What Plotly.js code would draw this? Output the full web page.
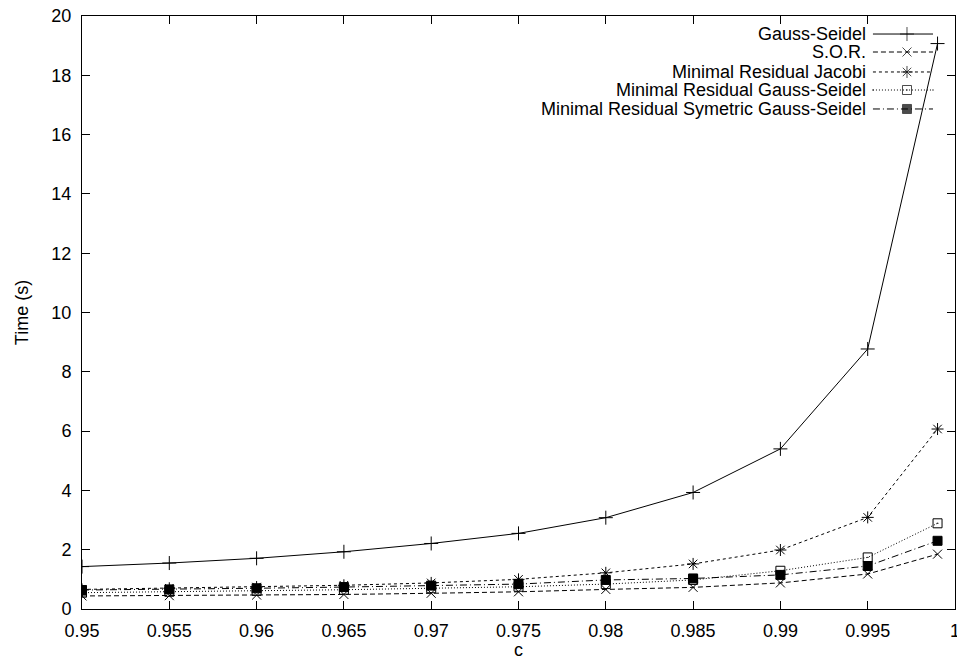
<!DOCTYPE html>
<html>
<head>
<meta charset="utf-8">
<script src="https://cdn.plot.ly/plotly-3.0.1.min.js"></script>
<style>html,body{margin:0;padding:0;background:#fff}#chart{width:957px;height:660px}</style>
</head>
<body>
<div id="chart"></div>
<script>
const cValues = [0.95, 0.955, 0.96, 0.965, 0.97, 0.975, 0.98, 0.985, 0.99, 0.995, 0.999];
const gaussSeidel = [1.43, 1.55, 1.71, 1.93, 2.21, 2.55, 3.08, 3.93, 5.40, 8.77, 19.07];
const sor = [0.44, 0.45, 0.47, 0.49, 0.53, 0.58, 0.66, 0.73, 0.88, 1.18, 1.85];
const mrJacobi = [0.66, 0.70, 0.74, 0.80, 0.88, 1.00, 1.22, 1.52, 1.99, 3.09, 6.07];
const mrGaussSeidel = [0.55, 0.58, 0.61, 0.65, 0.70, 0.75, 0.84, 0.98, 1.29, 1.74, 2.89];
const mrSymGaussSeidel = [0.64, 0.66, 0.70, 0.74, 0.79, 0.84, 0.98, 1.03, 1.15, 1.45, 2.30];

const seriesNames = ["Gauss-Seidel", "S.O.R.", "Minimal Residual Jacobi", "Minimal Residual Gauss-Seidel", "Minimal Residual Symetric Gauss-Seidel"];
const xTickVals = [0.95, 0.955, 0.96, 0.965, 0.97, 0.975, 0.98, 0.985, 0.99, 0.995, 1.0];
const xTickText = ["0.95", "0.955", "0.96", "0.965", "0.97", "0.975", "0.98", "0.985", "0.99", "0.995", "1"];
const yTickVals = [0, 2, 4, 6, 8, 10, 12, 14, 16, 18, 20];

const seriesData = [gaussSeidel, sor, mrJacobi, mrGaussSeidel, mrSymGaussSeidel];
const styles = [
  {dash: "solid", symbol: "cross-thin-open", size: 10},
  {dash: "5px,3px", symbol: "x-thin-open", size: 9},
  {dash: "3px,3px", symbol: "asterisk-open", size: 10},
  {dash: "1px,2px", symbol: "square-open-dot", size: 9},
  {dash: "7px,3px,1px,3px", symbol: "square", size: 9}
];

const FONT = "Liberation Sans, Arial, sans-serif";
const FS = 18;
const traces = [];
seriesData.forEach((ys, i) => {
  traces.push({
    x: cValues, y: ys, type: "scatter", mode: "lines+markers", name: seriesNames[i],
    line: {color: "#000", width: 1, dash: styles[i].dash},
    marker: {color: "#000", symbol: styles[i].symbol, size: styles[i].size, line: {color: "#000", width: 1}},
    showlegend: false, hoverinfo: "skip"
  });
});

// gnuplot-style key: text right-aligned, sample to its right (drawn on an overlay axis)
const legRows = [0.9696, 0.9393, 0.9056, 0.8752, 0.8432];
const annotations = [];
seriesNames.forEach((n, i) => {
  traces.push({
    x: [0.906, 0.945, 0.9748], y: [legRows[i], legRows[i], legRows[i]],
    xaxis: "x2", yaxis: "y2", type: "scatter", mode: "lines+markers",
    line: {color: "#000", width: 1, dash: styles[i].dash},
    marker: {color: "#000", symbol: styles[i].symbol, size: [0, styles[i].size, 0], line: {color: "#000", width: 1}},
    showlegend: false, hoverinfo: "skip"
  });
  annotations.push({
    xref: "paper", yref: "paper", x: 0.9003, y: legRows[i], xanchor: "right", yanchor: "middle",
    text: n, showarrow: false, font: {family: FONT, size: FS, color: "#000"}
  });
});

const layout = {
  width: 957, height: 660,
  margin: {l: 82, r: 2, t: 16, b: 51},
  paper_bgcolor: "#fff", plot_bgcolor: "#fff",
  showlegend: false,
  font: {family: FONT, size: FS, color: "#000"},
  xaxis: {
    range: [0.95, 1.0], tickvals: xTickVals, ticktext: xTickText,
    ticks: "inside", ticklen: 8, tickwidth: 1, tickcolor: "#000",
    showline: true, linecolor: "#000", linewidth: 1, mirror: "allticks",
    showgrid: false, zeroline: false, ticklabeloverflow: "allow", ticklabelstandoff: 5,
    title: {text: "c", font: {family: FONT, size: FS}, standoff: 0},
    tickfont: {family: FONT, size: FS}, automargin: false
  },
  yaxis: {
    range: [0, 20], tickvals: yTickVals,
    ticks: "inside", ticklen: 8, tickwidth: 1, tickcolor: "#000",
    showline: true, linecolor: "#000", linewidth: 1, mirror: "allticks",
    showgrid: false, zeroline: false, ticklabelstandoff: 6,
    title: {text: "Time (s)", font: {family: FONT, size: FS}, standoff: 18},
    tickfont: {family: FONT, size: FS}, automargin: false
  },
  xaxis2: {overlaying: "x", range: [0, 1], visible: false, fixedrange: true},
  yaxis2: {overlaying: "y", range: [0, 1], visible: false, fixedrange: true},
  annotations: annotations
};

Plotly.newPlot("chart", traces, layout, {staticPlot: true, displayModeBar: false});
</script>
</body>
</html>
